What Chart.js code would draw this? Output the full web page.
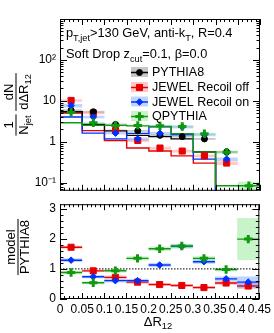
<!DOCTYPE html>
<html>
<head>
<meta charset="utf-8">
<title>Soft Drop dR12</title>
<script src="https://cdn.jsdelivr.net/npm/chart.js"></script>
<style>
  html, body { margin: 0; padding: 0; background: #fff; }
  #wrap { position: relative; width: 274px; height: 333px; overflow: hidden; }
  canvas { position: absolute; left: 0; }
</style>
</head>
<body>
<div id="wrap">
  <canvas id="top" width="274" height="202" style="top:0;width:274px;height:202px"></canvas>
  <canvas id="bot" width="274" height="140" style="top:193px;width:274px;height:140px"></canvas>
</div>
<script>
// bins in Delta R_12
const xEdges = [0, 0.05, 0.1, 0.15, 0.2, 0.25, 0.3, 0.35, 0.4, 0.45];
const xCenters = [0.025, 0.075, 0.125, 0.175, 0.225, 0.275, 0.325, 0.375, 0.425];
const xTickLabels = ['0', '0.05', '0.1', '0.15', '0.2', '0.25', '0.3', '0.35', '0.4', '0.45'];
const logTickLabels = { '-1': '10\u207B\u00B9', '0': '1', '1': '10', '2': '10\u00B2' };
const ratioTickLabels = ['0', '1', '2', '3'];

// 1/N dN/dR12 (upper panel)
const pythia8  = [5.9, 5.4, 2.65, 1.84, 1.43, 1.33, 1.17, 0.56, 0.042];
const jewelOff = [10.2, 5.05, 1.87, 1.07, 0.70, 0.59, 0.45, 0.30, 0.018];
const jewelOn  = [7.6, 4.0, 1.62, 1.17, 1.6, 2.3, 1.48, 0.375, 0.023];
const qpythia  = [5.2, 2.9, 2.5, 2.5, 2.44, 2.35, 1.56, 0.555, 0.084];
// relative band half widths
const pythia8Err  = [0.05, 0.05, 0.05, 0.05, 0.05, 0.05, 0.05, 0.07, 0.15];
const jewelOffErr = [0.06, 0.06, 0.07, 0.08, 0.08, 0.08, 0.08, 0.1, 0.2];
const jewelOnErr  = [0.1, 0.07, 0.07, 0.08, 0.08, 0.08, 0.08, 0.1, 0.2];
const qpythiaErr  = [0.05, 0.05, 0.05, 0.05, 0.05, 0.05, 0.05, 0.07, 0.25];

// model / PYTHIA8 (lower panel)
const ratioOff = [1.72, 0.935, 0.72, 0.56, 0.48, 0.45, 0.38, 0.53, 0.43];
const ratioOn  = [1.29, 0.74, 0.61, 0.61, 1.13, 1.75, 1.24, 0.67, 0.56];
const ratioQ   = [0.88, 0.54, 0.94, 1.35, 1.67, 1.76, 1.35, 0.98, 1.99];
const ratioOffErr = [0.05, 0.04, 0.06, 0.06, 0.04, 0.04, 0.04, 0.06, 0.1];
const ratioOnErr  = [0.06, 0.05, 0.06, 0.06, 0.07, 0.07, 0.07, 0.08, 0.19];
const ratioQErr   = [0.06, 0.05, 0.06, 0.07, 0.07, 0.07, 0.07, 0.06, 0.7];

const FONT = '"Liberation Sans", Arial, Helvetica, sans-serif';

const series = [
  { name: 'PYTHIA8', vals: pythia8, err: pythia8Err, color: '#000000', band: 'rgba(0,0,0,0.22)', style: 'circle', r: 3, bw: 1 },
  { name: 'JEWEL Recoil off', vals: jewelOff, err: jewelOffErr, color: '#e80000', band: 'rgba(255,40,40,0.25)', style: 'rect', r: 4.3, bw: 1, ratio: ratioOff, rErr: ratioOffErr },
  { name: 'JEWEL Recoil on', vals: jewelOn, err: jewelOnErr, color: '#0030ff', band: 'rgba(40,120,255,0.3)', style: 'rectRot', r: 3.3, bw: 1, ratio: ratioOn, rErr: ratioOnErr },
  { name: 'QPYTHIA', vals: qpythia, err: qpythiaErr, color: '#109910', band: 'rgba(40,210,40,0.25)', style: 'cross', r: 4.2, bw: 3, ratio: ratioQ, rErr: ratioQErr }
];
const markerOrder = { 'PYTHIA8': 2, 'JEWEL Recoil off': 3, 'JEWEL Recoil on': 1, 'QPYTHIA': 0 };

function stepData(vals) {
  return xEdges.map((x, i) => ({ x: x, y: vals[Math.min(i, vals.length - 1)] }));
}
function pointData(vals) {
  return xCenters.map((x, i) => ({ x: x, y: vals[i] }));
}

// draw text with sub/superscripts
function rich(ctx, x, y, parts, size, align) {
  let w = 0;
  parts.forEach(p => {
    ctx.font = (p.sub || p.sup ? size * 0.72 : size) + 'px ' + FONT;
    w += ctx.measureText(p.t).width;
  });
  let cx = align === 'center' ? x - w / 2 : x;
  parts.forEach(p => {
    const fs = p.sub || p.sup ? size * 0.72 : size;
    ctx.font = fs + 'px ' + FONT;
    const dy = p.sub ? size * 0.32 : (p.sup ? -size * 0.38 : 0);
    ctx.fillText(p.t, cx, y + dy);
    cx += ctx.measureText(p.t).width;
  });
  return w;
}
function fraction(ctx, lx, num, den, size, nOff, dOff) {
  ctx.textBaseline = 'middle';
  const wn = rich(ctx, lx, nOff, num, size, 'center');
  const wd = rich(ctx, lx, dOff, den, size, 'center');
  const w = Math.max(wn, wd) + 2;
  ctx.fillRect(lx - w / 2, -0.5, w, 1);
}

function frameTicks(chart, yMaj, yMin) {
  const { ctx, chartArea: a, scales: { x, y } } = chart;
  ctx.save();
  ctx.strokeStyle = '#000';
  ctx.lineWidth = 1;
  ctx.strokeRect(a.left + 0.5, a.top + 0.5, a.right - a.left - 1, a.bottom - a.top - 1);
  ctx.beginPath();
  for (let k = 0; k <= 45; k++) {
    const px = Math.round(x.getPixelForValue(k * 0.01)) + 0.5;
    const len = k % 5 === 0 ? 6 : 3;
    ctx.moveTo(px, a.bottom); ctx.lineTo(px, a.bottom - len);
    ctx.moveTo(px, a.top); ctx.lineTo(px, a.top + len);
  }
  const yt = (v, len) => {
    const py = Math.round(y.getPixelForValue(v)) + 0.5;
    ctx.moveTo(a.left, py); ctx.lineTo(a.left + len, py);
    ctx.moveTo(a.right, py); ctx.lineTo(a.right - len, py);
  };
  yMaj.forEach(v => yt(v, 7));
  yMin.forEach(v => yt(v, 3.5));
  ctx.stroke();
  ctx.restore();
}

function clipArea(ctx, a) {
  ctx.beginPath();
  ctx.rect(a.left, a.top, a.right - a.left, a.bottom - a.top);
  ctx.clip();
}

// ---------- upper panel ----------
const upperBands = {
  id: 'upperBands',
  beforeDatasetsDraw(chart) {
    const { ctx, chartArea: a, scales: { x, y } } = chart;
    ctx.save();
    clipArea(ctx, a);
    series.forEach(s => {
      ctx.fillStyle = s.band;
      s.vals.forEach((v, i) => {
        const x0 = x.getPixelForValue(xEdges[i]), x1 = x.getPixelForValue(xEdges[i + 1]);
        const y0 = y.getPixelForValue(v * (1 + s.err[i])), y1 = y.getPixelForValue(v * (1 - s.err[i]));
        ctx.fillRect(x0, y0, x1 - x0, y1 - y0);
      });
    });
    ctx.restore();
  }
};

const upperDecor = {
  id: 'upperDecor',
  afterDraw(chart) {
    const ctx = chart.ctx;
    const maj = [0.1, 1, 10, 100, 1000], min = [];
    for (let d = -2; d <= 2; d++) for (let k = 2; k <= 9; k++) {
      const v = k * Math.pow(10, d);
      if (v > 0.063 && v < 1000) min.push(v);
    }
    frameTicks(chart, maj, min);

    ctx.save();
    ctx.fillStyle = '#000';
    ctx.textBaseline = 'alphabetic';
    rich(ctx, 66, 37, [{ t: 'p' }, { t: 'T,jet', sub: true }, { t: '>130 GeV, anti-k' }, { t: 'T', sub: true }, { t: ', R=0.4' }], 12.8);
    rich(ctx, 66, 58, [{ t: 'Soft Drop z' }, { t: 'cut', sub: true }, { t: '=0.1, \u03B2=0.0' }], 12.8);

    // legend
    const rows = [72, 87, 101.5, 116];
    series.forEach((s, i) => {
      const cy = rows[i];
      ctx.fillStyle = s.band;
      ctx.fillRect(131, cy - 5, 17, 10);
      ctx.strokeStyle = s.color;
      ctx.lineWidth = 1.5;
      ctx.beginPath(); ctx.moveTo(131, cy + 0.5); ctx.lineTo(148, cy + 0.5); ctx.stroke();
      ctx.fillStyle = s.color;
      ctx.lineWidth = s.bw;
      Chart.helpers.drawPoint(ctx, { pointStyle: s.style, radius: s.r, borderWidth: s.bw, rotation: 0 }, 139.5, cy + 0.5);
      ctx.fillStyle = '#000';
      ctx.textBaseline = 'middle';
      ctx.font = '12.5px ' + FONT;
      ctx.fillText(s.name, 152, cy + 1);
    });

    // y title
    ctx.translate(16, 108);
    ctx.rotate(-Math.PI / 2);
    fraction(ctx, -17, [{ t: '1' }], [{ t: 'N' }, { t: 'jet', sub: true }], 13, -7, 8);
    fraction(ctx, 16, [{ t: 'dN' }], [{ t: 'd\u0394R' }, { t: '12', sub: true }], 13, -7, 8);
    ctx.restore();
  }
};

const upperDatasets = [];
series.forEach(s => {
  upperDatasets.push({
    data: pointData(s.vals), showLine: false, order: markerOrder[s.name],
    pointStyle: s.style, pointRadius: s.r, pointBorderWidth: s.bw,
    pointBackgroundColor: s.color, pointBorderColor: s.color
  });
  upperDatasets.push({
    data: stepData(s.vals), stepped: 'after', order: 10 + markerOrder[s.name],
    borderColor: s.color, borderWidth: 1.4, pointRadius: 0, fill: false
  });
});

new Chart(document.getElementById('top'), {
  type: 'line',
  data: { datasets: upperDatasets },
  options: {
    responsive: false, animation: false, events: [],
    layout: { padding: { top: 19, right: 14, left: 0, bottom: 0 } },
    plugins: { legend: { display: false }, tooltip: { enabled: false } },
    scales: {
      x: {
        type: 'linear', min: 0, max: 0.45,
        grid: { display: false, drawTicks: false }, border: { display: false },
        ticks: { display: false },
        afterFit: s => { s.height = 1; }
      },
      y: {
        type: 'logarithmic', min: 0.063, max: 1000,
        grid: { display: false, drawTicks: false }, border: { display: false },
        ticks: {
          autoSkip: false, padding: 4, color: '#000', font: { family: FONT, size: 12 },
          callback: v => {
            const l = Math.log10(v), r = Math.round(l);
            return Math.abs(l - r) < 1e-6 && logTickLabels[r] !== undefined ? logTickLabels[r] : null;
          }
        },
        afterFit: s => { s.width = 60; }
      }
    }
  },
  plugins: [upperBands, upperDecor]
});

// ---------- lower panel ----------
const ratioSeries = series.filter(s => s.ratio);

const lowerBands = {
  id: 'lowerBands',
  beforeDatasetsDraw(chart) {
    const { ctx, chartArea: a, scales: { x, y } } = chart;
    ctx.save();
    clipArea(ctx, a);
    ratioSeries.forEach(s => {
      s.ratio.forEach((v, i) => {
        const x0 = x.getPixelForValue(xEdges[i]), x1 = x.getPixelForValue(xEdges[i + 1]);
        const y0 = y.getPixelForValue(v + s.rErr[i]), y1 = y.getPixelForValue(v - s.rErr[i]);
        ctx.fillStyle = s.band;
        ctx.fillRect(x0, y0, x1 - x0, y1 - y0);
        const py = y.getPixelForValue(v);
        ctx.strokeStyle = s.color;
        ctx.lineWidth = 1.4;
        ctx.beginPath(); ctx.moveTo(x0, py); ctx.lineTo(x1, py); ctx.stroke();
      });
    });
    ctx.restore();
  }
};

const lowerDecor = {
  id: 'lowerDecor',
  afterDraw(chart) {
    const ctx = chart.ctx;
    const min = [];
    for (let k = 1; k <= 15; k++) if (k % 5 !== 0) min.push(k * 0.2);
    frameTicks(chart, [0, 1, 2, 3], min);
    ctx.save();
    ctx.fillStyle = '#000';
    ctx.textBaseline = 'middle';
    rich(ctx, 158, 322 - 193, [{ t: '\u0394R' }, { t: '12', sub: true }], 13, 'center');
    ctx.translate(18, 247 - 193);
    ctx.rotate(-Math.PI / 2);
    fraction(ctx, 0, [{ t: 'model' }], [{ t: 'PYTHIA8' }], 13, -7, 7.5);
    ctx.restore();
  }
};

const lowerDatasets = [{
  data: [{ x: 0, y: 1 }, { x: 0.45, y: 1 }], order: 20,
  borderColor: '#000', borderWidth: 1, borderDash: [1.5, 1.5], pointRadius: 0, fill: false
}];
ratioSeries.forEach(s => {
  lowerDatasets.push({
    data: pointData(s.ratio), showLine: false, order: markerOrder[s.name],
    pointStyle: s.style, pointRadius: s.r, pointBorderWidth: s.bw,
    pointBackgroundColor: s.color, pointBorderColor: s.color
  });
});

new Chart(document.getElementById('bot'), {
  type: 'line',
  data: { datasets: lowerDatasets },
  options: {
    responsive: false, animation: false, events: [],
    layout: { padding: { top: 8, right: 14, left: 0, bottom: 0 } },
    plugins: { legend: { display: false }, tooltip: { enabled: false } },
    scales: {
      x: {
        type: 'linear', min: 0, max: 0.45,
        grid: { display: false, drawTicks: false }, border: { display: false },
        ticks: {
          stepSize: 0.05, autoSkip: false, maxRotation: 0, padding: 3, color: '#000',
          font: { family: FONT, size: 12 },
          callback: v => xTickLabels[Math.round(v / 0.05)]
        },
        afterFit: s => { s.height = 34; }
      },
      y: {
        type: 'linear', min: 0, max: 3.15,
        grid: { display: false, drawTicks: false }, border: { display: false },
        ticks: {
          stepSize: 1, includeBounds: false, autoSkip: false, padding: 4, color: '#000',
          font: { family: FONT, size: 12 },
          callback: v => Number.isInteger(v) ? ratioTickLabels[v] : null
        },
        afterFit: s => { s.width = 60; }
      }
    }
  },
  plugins: [lowerBands, lowerDecor]
});
</script>
</body>
</html>
